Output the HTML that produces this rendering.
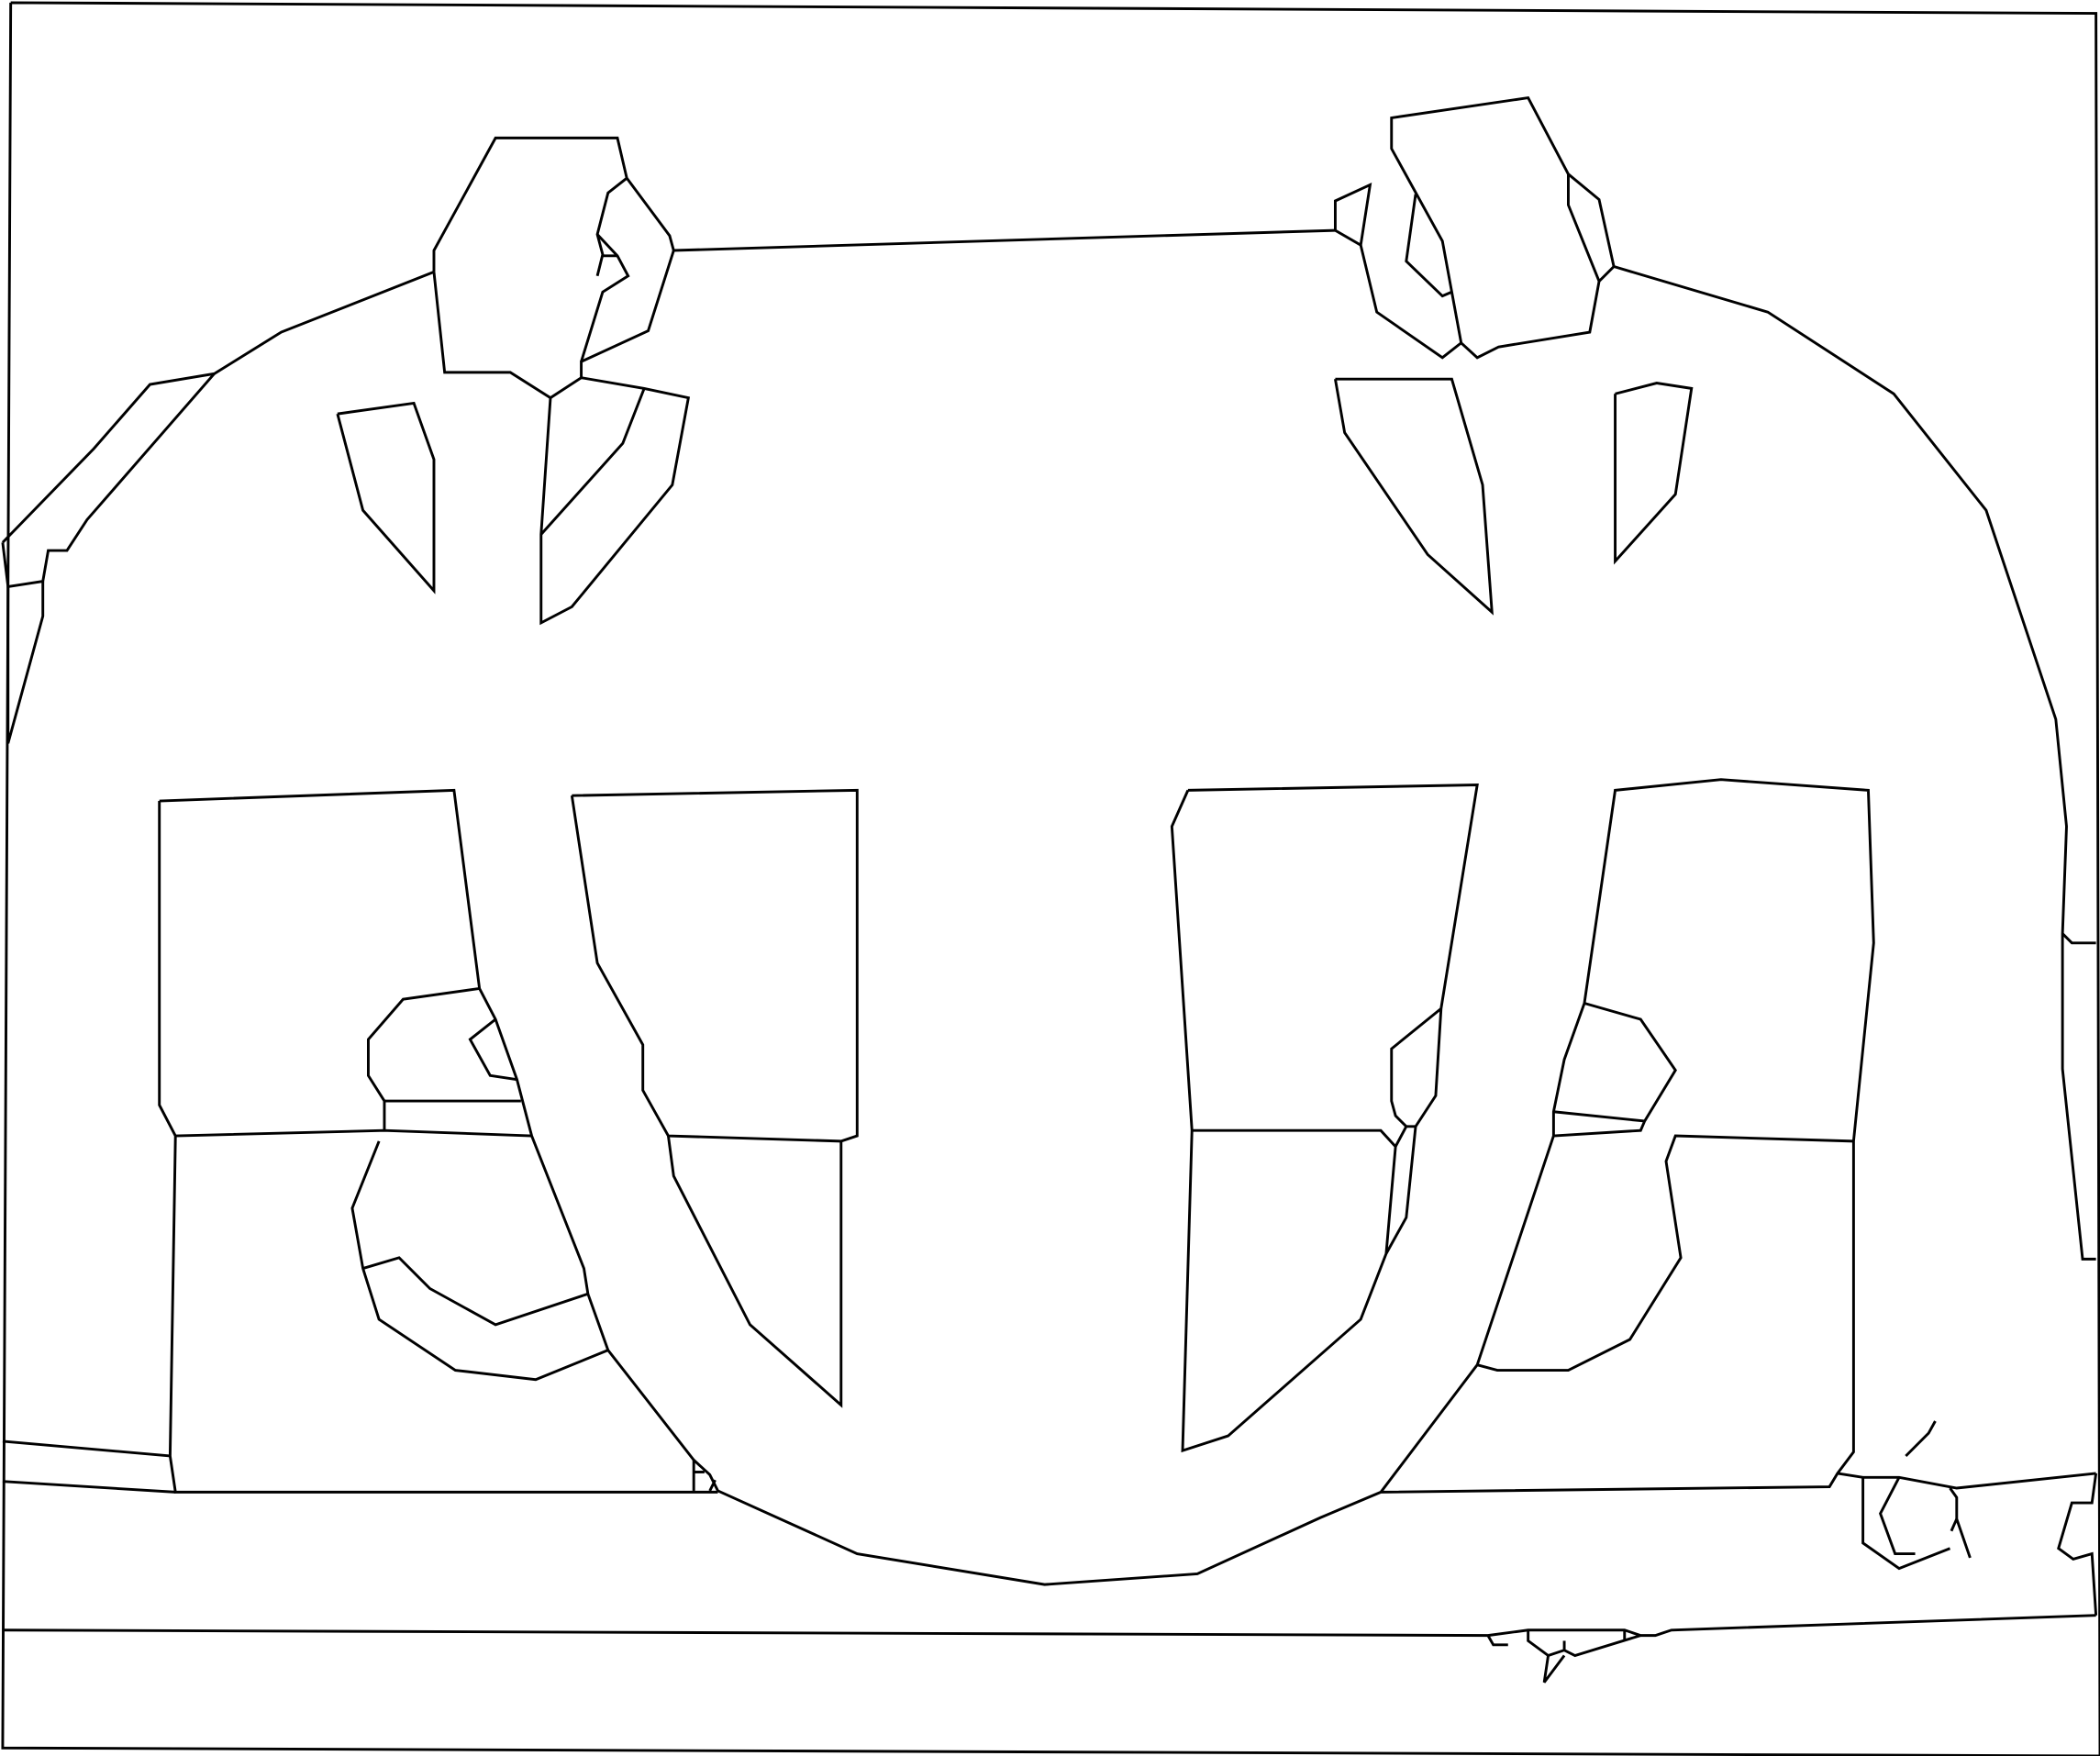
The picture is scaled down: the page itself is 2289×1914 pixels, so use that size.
<!DOCTYPE html>
<html><head><meta charset="utf-8"><style>
html,body{margin:0;padding:0;background:#fff;width:2289px;height:1914px;overflow:hidden}
svg{display:block}
polyline{fill:none;stroke:#000;stroke-width:2;stroke-linejoin:miter}
</style></head><body>
<svg width="2289" height="1914" viewBox="0 0 1568 1311" preserveAspectRatio="none">
<polyline points="8,2 1565,10 1568,1311 2,1305 8,2"/>
<polyline points="2,405 70,335 112,287 160,279 210,248 324,203"/>
<polyline points="324,203 324,187 370,103 461,103 468,133 500,176 503,187 997,172"/>
<polyline points="324,203 332,278 381,278 411,297 434,282 434,270 484,247 503,187"/>
<polyline points="468,133 454,144 446,175 450,190 446,206"/>
<polyline points="446,175 461,191 469,206 450,218 434,270"/>
<polyline points="450,191 461,191"/>
<polyline points="434,282 481,290 514,297 502,362 427,453 404,465 404,399 411,297"/>
<polyline points="481,290 465,331 404,399"/>
<polyline points="252,309 309,301 324,343 324,441 271,381 252,309"/>
<polyline points="160,279 65,388 50,411 36,411 32,434 6,438 2,405"/>
<polyline points="32,434 32,460 6,555 6,438"/>
<polyline points="997,172 997,150 1023,138 1016,183 997,172"/>
<polyline points="1016,183 1028,233 1077,267 1091,256 1103,267 1119,259 1187,248 1194,210 1205,199 1194,149 1171,130 1141,73 1039,88 1039,111 1077,180 1084,218 1091,256"/>
<polyline points="1057,145 1050,195 1077,221 1084,218"/>
<polyline points="1171,130 1171,153 1194,210"/>
<polyline points="1205,199 1320,233 1414,294 1483,381 1535,537 1543,617 1540,697 1540,798 1555,940 1565,940"/>
<polyline points="1540,697 1547,704 1565,704"/>
<polyline points="997,283 1084,283 1107,362 1114,457 1066,414 1004,323 997,283"/>
<polyline points="1206,294 1237,286 1263,290 1251,369 1206,419 1206,294"/>
<polyline points="119,598 339,590 358,738 370,761 386,806 397,848 436,947 439,966 454,1008 518,1090 530,1101 536,1113 640,1160 780,1183 894,1175 986,1133 1031,1114 1103,1019 1160,848 1160,830 1168,791 1183,749 1206,590 1285,582 1395,590 1399,704 1384,852 1384,1084 1372,1100 1366,1110 1031,1114"/>
<polyline points="119,598 119,825 131,848 127,1087 131,1114 536,1114"/>
<polyline points="131,848 287,844 397,848"/>
<polyline points="287,844 287,822 389,822"/>
<polyline points="358,738 301,746 275,776 275,803 287,822"/>
<polyline points="370,761 351,776 366,803 386,806"/>
<polyline points="283,852 263,902 271,947 283,985 340,1023 400,1030 454,1008"/>
<polyline points="271,947 298,939 321,962 370,989 439,966"/>
<polyline points="427,594 640,590 640,848 628,852 499,848 480,814 480,780 446,719 427,594"/>
<polyline points="499,848 503,878 560,989 628,1049 628,852"/>
<polyline points="518,1090 518,1113"/>
<polyline points="518,1099 526,1099"/>
<polyline points="530,1113 534,1105"/>
<polyline points="2,1076 127,1087"/>
<polyline points="2,1106 131,1114"/>
<polyline points="887,590 1103,586 1076,753 1072,818 1057,841 1050,909 1035,936 1016,985 917,1072 883,1083 890,844 875,617 887,590"/>
<polyline points="890,844 1031,844 1042,856 1035,936"/>
<polyline points="1076,753 1039,783 1039,822 1042,833 1050,841 1057,841"/>
<polyline points="1042,856 1050,841"/>
<polyline points="1183,749 1225,761 1251,799 1228,837 1225,844 1160,848"/>
<polyline points="1160,830 1228,837"/>
<polyline points="1384,852 1251,848 1244,867 1255,939 1217,1000 1171,1023 1118,1023 1103,1019"/>
<polyline points="1372,1100 1391,1103 1418,1103 1461,1111 1565,1100"/>
<polyline points="1391,1103 1391,1152 1418,1171 1456,1156"/>
<polyline points="1418,1103 1404,1130 1415,1160 1430,1160"/>
<polyline points="1456,1111 1461,1118 1461,1134 1471,1163"/>
<polyline points="1461,1134 1457,1143"/>
<polyline points="1423,1087 1440,1070 1445,1061"/>
<polyline points="1565,1100 1562,1122 1547,1122 1537,1156 1548,1164 1562,1160 1565,1206"/>
<polyline points="2,1217 1111,1221 1141,1217 1213,1217 1225,1221 1236,1221 1248,1217 1565,1206"/>
<polyline points="1111,1221 1115,1228 1126,1228"/>
<polyline points="1141,1217 1141,1225 1156,1236 1168,1232 1176,1236 1225,1221"/>
<polyline points="1156,1236 1153,1256 1168,1236"/>
<polyline points="1168,1232 1168,1225"/>
<polyline points="1213,1217 1213,1224"/>
</svg>
</body></html>
